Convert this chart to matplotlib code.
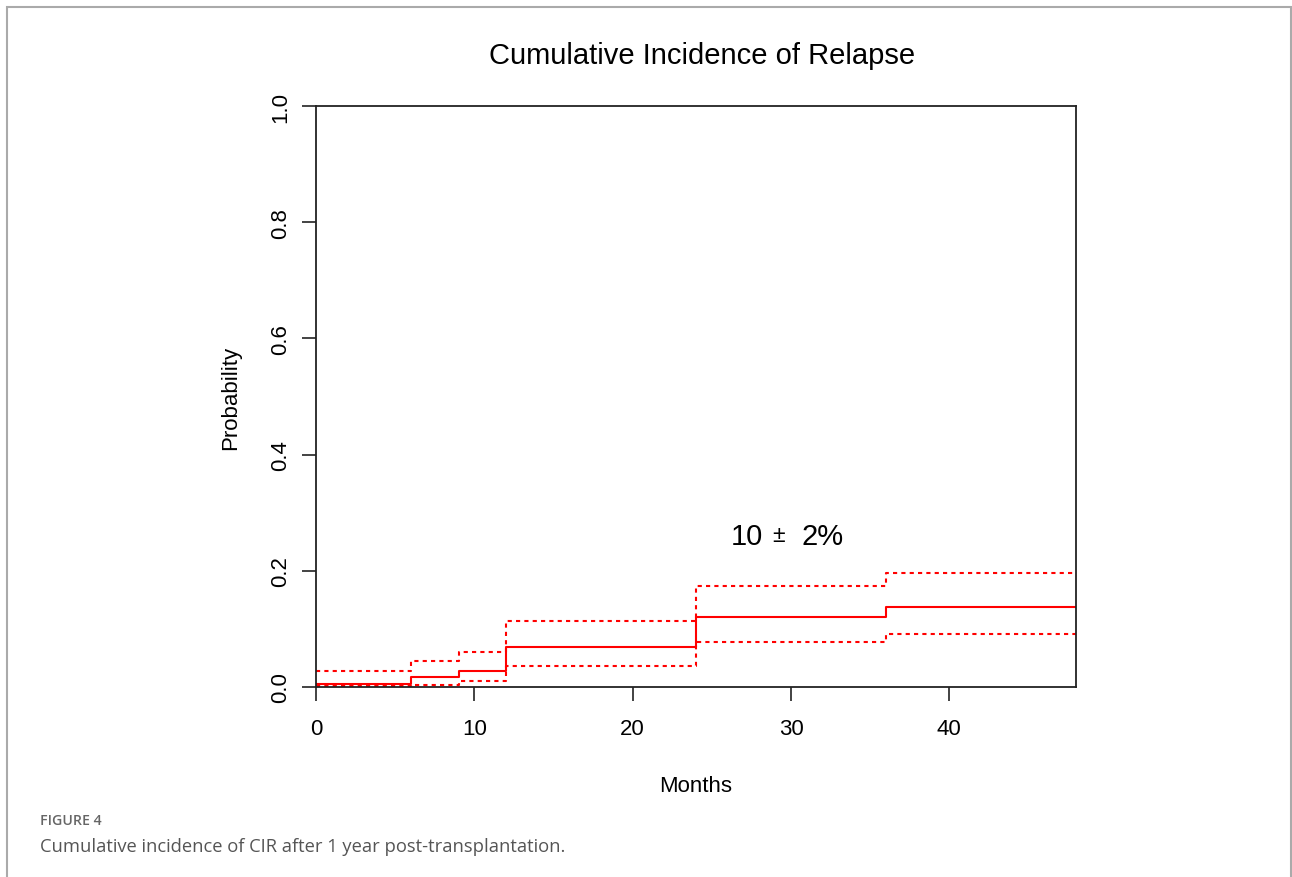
import matplotlib
matplotlib.use("Agg")
import matplotlib.pyplot as plt
from matplotlib.patches import Rectangle

# step data (months, cumulative incidence)
times = [0, 6, 9, 12, 24, 36, 48]
cir = [0.005, 0.017, 0.028, 0.068, 0.120, 0.138, 0.138]
upper = [0.028, 0.044, 0.061, 0.113, 0.173, 0.196, 0.196]
lower = [0.001, 0.003, 0.010, 0.037, 0.077, 0.092, 0.092]

xticks = [0, 10, 20, 30, 40]
yticks = [0.0, 0.2, 0.4, 0.6, 0.8, 1.0]
ytick_labels = ["0.0", "0.2", "0.4", "0.6", "0.8", "1.0"]

RED = "#ff0000"
plt.rcParams["font.family"] = ["Liberation Sans", "DejaVu Sans"]

fig = plt.figure(figsize=(12.92, 8.78), dpi=100)
ax = fig.add_axes([0.2446, 0.2164, 0.5882, 0.6617])

ax.step(times, cir, where="post", color=RED, lw=1.5)
ax.step(times, upper, where="post", color=RED, lw=1.5, ls=(0, (2, 2)))
ax.step(times, lower, where="post", color=RED, lw=1.5, ls=(0, (2, 2)))

ax.set_xlim(0, 48)
ax.set_ylim(0, 1)
ax.set_xticks(xticks)
ax.set_yticks(yticks)
ax.set_yticklabels(ytick_labels, rotation=90, va="center")
ax.tick_params(axis="both", direction="out", length=10, width=1.2, colors="#222",
               labelsize=16, labelcolor="black")
ax.tick_params(axis="y", pad=8)
ax.tick_params(axis="x", pad=12)
for s in ax.spines.values():
    s.set_linewidth(1.3)
    s.set_color("#222")

# "10 ± 2%" with a smaller plus-minus sign, as in the original
ax.text(27.2, 0.26, "10", fontsize=21, ha="center", va="center")
ax.text(29.2, 0.262, "\u00b1", fontsize=16.5, ha="center", va="center")
ax.text(32.0, 0.26, "2%", fontsize=21, ha="center", va="center")

ax.set_title("Cumulative Incidence of Relapse", fontsize=21, pad=31, x=0.508)
ax.set_xlabel("Months", fontsize=16, labelpad=26)
ax.set_ylabel("Probability", fontsize=16, labelpad=21)

# page frame and caption
fig.patches.append(Rectangle((6.5 / 1292, -0.1), (1291 - 6.5) / 1292, 1.1 - 7.5 / 878,
                             transform=fig.transFigure, fill=False, ec="#aaaaaa", lw=1.5))
fig.text(40 / 1292, 1 - 821 / 878, "FIGURE 4", fontsize=10.2, color="#666666",
         family=["Open Sans", "DejaVu Sans"], va="center", fontweight="semibold")
fig.text(40 / 1292, 1 - 847 / 878, "Cumulative incidence of CIR after 1 year post-transplantation.",
         fontsize=13.2, color="#555555", family=["Open Sans", "DejaVu Sans"], va="center")

fig.savefig("out.png", dpi=100)
